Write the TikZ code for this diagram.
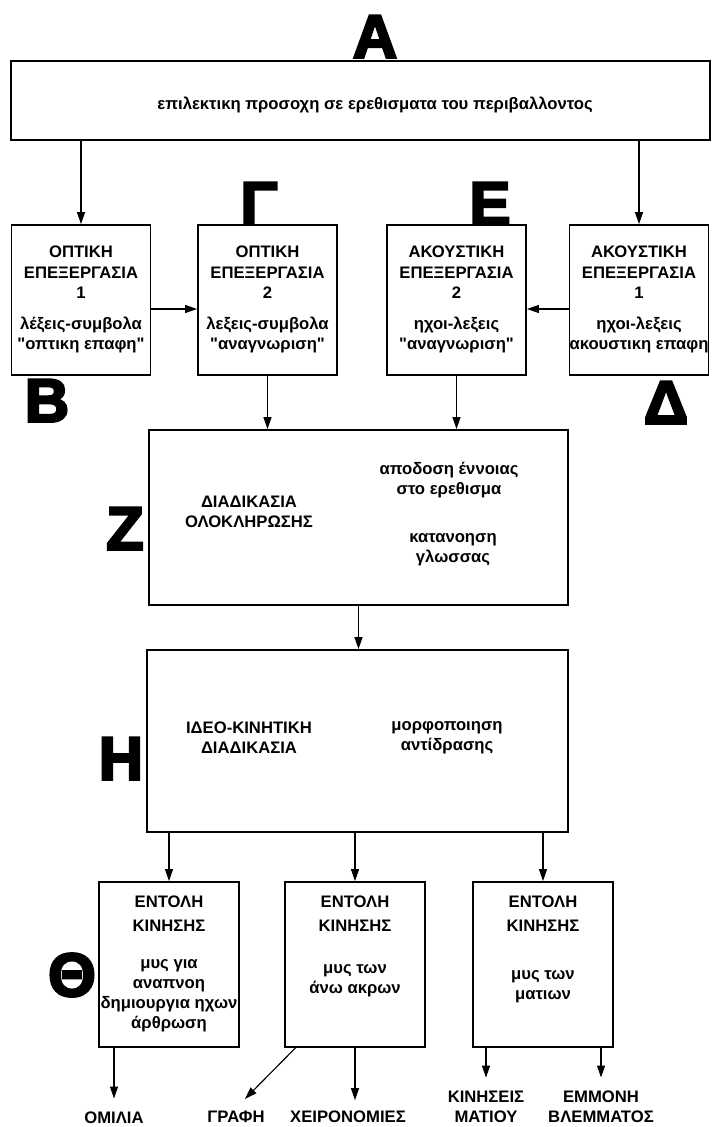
\documentclass[tikz,border=0pt]{standalone}
\usepackage{fontspec}
\setmainfont{Liberation Sans}
\newfontfamily\plainsans{Liberation Sans}
\newfontfamily\heavyfont{Liberation Sans}[FakeBold=4]
\usetikzlibrary{arrows.meta, positioning, calc}
\tikzset{
  box/.style={rectangle, draw, line width=1.35pt, inner sep=0pt},
  procbox/.style={box, minimum width=104.25pt, minimum height=112.5pt},
  cmdbox/.style={box, minimum width=105pt, minimum height=123.75pt},
  txt/.style={align=center, inner sep=0pt, font=\plainsans\bfseries\fontsize{12.5}{15}\selectfont},
  tag/.style={anchor=south, inner sep=0pt, font=\heavyfont\bfseries\fontsize{46}{46}\selectfont},
  arrow/.style={-{Triangle[length=9pt, width=6pt]}, line width=0.85pt},
  outarrow/.style={arrow, shorten >=10pt}
}

\begin{document}
\begin{tikzpicture}[x=0.75pt, y=-0.75pt]
  \useasboundingbox (0,0) rectangle (711,1127);

  \node[box, minimum width=524.25pt, minimum height=59.25pt] (attn) at (360.5,100.5) {};
  \node[txt] (attntxt) at (375,105) {επιλεκτικη προσοχη σε ερεθισματα του περιβαλλοντος};

  \node[procbox] (vis1) at (81,300) {};
  \node[procbox] (vis2) at (267.5,300) {};
  \node[procbox] (aud2) at (456.5,300) {};
  \node[procbox] (aud1) at (639,300) {};
  \node[txt, below=15.75pt of vis1.north] (vis1txt) {ΟΠΤΙΚΗ\\[1pt] ΕΠΕΞΕΡΓΑΣΙΑ\\ 1\\[8pt] λέξεις-συμβολα\\ "οπτικη επαφη"};
  \node[txt, below=15.75pt of vis2.north] (vis2txt) {ΟΠΤΙΚΗ\\[1pt] ΕΠΕΞΕΡΓΑΣΙΑ\\ 2\\[8pt] λεξεις-συμβολα\\ "αναγνωριση"};
  \node[txt, below=15.75pt of aud2.north] (aud2txt) {ΑΚΟΥΣΤΙΚΗ\\[1pt] ΕΠΕΞΕΡΓΑΣΙΑ\\ 2\\[8pt] ηχοι-λεξεις\\ "αναγνωριση"};
  \node[txt, below=15.75pt of aud1.north] (aud1txt) {ΑΚΟΥΣΤΙΚΗ\\[1pt] ΕΠΕΞΕΡΓΑΣΙΑ\\ 1\\[8pt] ηχοι-λεξεις\\ ακουστικη επαφη};

  \node[box, minimum width=314.25pt, minimum height=131.25pt] (integ) at (358.5,517.5) {};
  \node[txt] (integtxt) at (249,512) {ΔΙΑΔΙΚΑΣΙΑ\\ ΟΛΟΚΛΗΡΩΣΗΣ};
  \node[txt] (meaning) at (449,480) {αποδοση έννοιας\\ στο ερεθισμα};
  \node[txt] (lang) at (453,550) {κατανοηση\\ γλωσσας};

  \node[box, minimum width=315.75pt, minimum height=136.5pt] (ideo) at (357.5,741) {};
  \node[txt] (ideotxt) at (249,738) {ΙΔΕΟ-ΚΙΝΗΤΙΚΗ\\ ΔΙΑΔΙΚΑΣΙΑ};
  \node[txt] (shape) at (447,738) {μορφοποιηση\\ αντίδρασης};

  \node[cmdbox] (cmd1) at (169,964.5) {};
  \node[cmdbox] (cmd2) at (355,964.5) {};
  \node[cmdbox] (cmd3) at (543,964.5) {};
  \node[txt, below=10.5pt of cmd1.north] (cmd1txt) {ΕΝΤΟΛΗ\\[3pt] ΚΙΝΗΣΗΣ\\[12.75pt] μυς για\\ αναπνοη\\ δημιουργια ηχων\\ άρθρωση};
  \node[txt, below=10.5pt of cmd2.north] (cmd2txt) {ΕΝΤΟΛΗ\\[3pt] ΚΙΝΗΣΗΣ\\[16.5pt] μυς των\\ άνω ακρων};
  \node[txt, below=10.5pt of cmd3.north] (cmd3txt) {ΕΝΤΟΛΗ\\[3pt] ΚΙΝΗΣΗΣ\\[21pt] μυς των\\ ματιων};

  \node[txt] (speech) at (114,1118) {ΟΜΙΛΙΑ};
  \node[txt] (writing) at (236,1117) {ΓΡΑΦΗ};
  \node[txt] (gesture) at (348,1117) {ΧΕΙΡΟΝΟΜΙΕΣ};
  \node[txt] (eyemove) at (486,1107) {ΚΙΝΗΣΕΙΣ\\ ΜΑΤΙΟΥ};
  \node[txt] (gaze) at (601,1107) {ΕΜΜΟΝΗ\\ ΒΛΕΜΜΑΤΟΣ};

  \node[tag] (tA) at (375,58) {Α};
  \node[tag] (tB) at (47,422) {Β};
  \node[tag] (tG) at (259,225) {Γ};
  \node[tag] (tD) at (666,424) {Δ};
  \node[tag] (tE) at (490,225) {Ε};
  \node[tag] (tZ) at (125,550) {Ζ};
  \node[tag] (tH) at (121,780) {Η};
  \node[tag] (tT) at (72,997) {Θ};

  \draw[arrow] (attn.south -| vis1.north) -- (vis1.north);
  \draw[arrow] (attn.south -| aud1.north) -- (aud1.north);
  \draw[arrow] ([yshift=-6.75pt]vis1.east) -- ([yshift=-6.75pt]vis2.west);
  \draw[arrow] ([yshift=-6.75pt]aud1.west) -- ([yshift=-6.75pt]aud2.east);
  \draw[arrow] (vis2.south) -- (vis2.south |- integ.north);
  \draw[arrow] (aud2.south) -- (aud2.south |- integ.north);
  \draw[arrow] (integ.south) -- (integ.south |- ideo.north);
  \draw[arrow] (ideo.south -| cmd1.north) -- (cmd1.north);
  \draw[arrow] (ideo.south -| cmd2.north) -- (cmd2.north);
  \draw[arrow] (ideo.south -| cmd3.north) -- (cmd3.north);

  \draw[outarrow] (cmd1.south -| speech.north) -- (speech.north);
  \draw[arrow] ($(cmd2.south west)!0.08!(cmd2.south east)$) -- ($(writing.north)+(9,-12)$);
  \draw[outarrow, shorten >=8pt] (cmd2.south) -- (cmd2.south |- gesture.north);
  \draw[outarrow] (cmd3.south -| eyemove.north) -- (eyemove.north);
  \draw[outarrow] (cmd3.south -| gaze.north) -- (gaze.north);
\end{tikzpicture}
\end{document}
